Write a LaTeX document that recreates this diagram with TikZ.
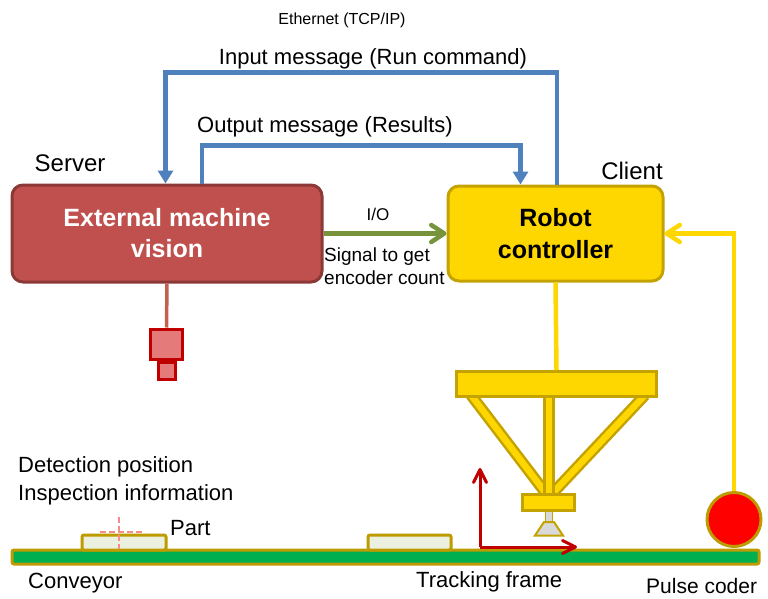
\documentclass[tikz,border=0pt]{standalone}
\usepackage{fontspec}
\setmainfont{Liberation Sans}
\usetikzlibrary{arrows.meta}

\definecolor{netblue}{RGB}{79,129,189}
\definecolor{visfill}{RGB}{192,80,77}
\definecolor{visline}{RGB}{140,56,54}
\definecolor{gold}{RGB}{255,215,0}
\definecolor{golddark}{RGB}{196,162,0}
\definecolor{iogreen}{RGB}{119,147,60}
\definecolor{camfill}{RGB}{228,122,122}
\definecolor{camline}{RGB}{192,0,0}
\definecolor{cable}{RGB}{196,96,80}
\definecolor{beltgreen}{RGB}{0,176,80}
\definecolor{beltedge}{RGB}{190,155,0}
\definecolor{partfill}{RGB}{235,241,222}
\definecolor{crosspink}{RGB}{245,140,140}
\definecolor{framered}{RGB}{192,0,0}
\definecolor{cupgray}{RGB}{217,217,217}

\tikzset{
  txt/.style={inner sep=0pt, font=\fontsize{#1}{#1}\selectfont},
  visionbox/.style={draw=visline, fill=visfill, line width=3pt, rounded corners=11pt,
    minimum width=310pt, minimum height=97pt, text=white, align=center,
    font=\fontsize{25}{31}\selectfont\bfseries},
  ctrlbox/.style={draw=golddark, fill=gold, line width=3pt, rounded corners=11pt,
    minimum width=215pt, minimum height=95pt, text=black, align=center,
    font=\fontsize{25}{32}\selectfont\bfseries},
  netarrow/.style={draw=netblue, line width=4.5pt, -{Triangle[width=15pt,length=13pt]}},
  ioarrow/.style={draw=iogreen, line width=4.5pt,
    -{Straight Barb[width=17pt,length=13pt,round]}},
  feedarrow/.style={draw=gold, line width=4.5pt,
    -{Straight Barb[width=17pt,length=13pt,round]}},
  framearrow/.style={draw=framered, line width=3pt,
    -{Straight Barb[width=13pt,length=13pt,round]}},
  goldpart/.style={draw=golddark, fill=gold, line width=3pt},
  leg/.style={draw=golddark, line width=2.5pt, double=gold, double distance=6.5pt},
}

\begin{document}
\begin{tikzpicture}[x=1pt, y=-1pt]
\useasboundingbox (0,0) rectangle (768,599);

% ---------- main blocks ----------
\node[visionbox] (vision) at (167,233.5) {External machine\\vision};
\node[ctrlbox] (ctrl) at (555.5,233.5) {Robot\\controller};

\node[txt=24, anchor=center] (server) at (70,163) {Server};
\node[txt=24, anchor=center] (client) at (632,171) {Client};

% ---------- Ethernet messages ----------
\node[txt=16] (eth) at (342,20) {Ethernet (TCP/IP)};
\node[txt=22] (inmsg) at (373,59) {Input message (Run command)};
\node[txt=22] (outmsg) at (325,127) {Output message (Results)};

\draw[netarrow] ([xshift=1.5pt]ctrl.north) -- ++(0,-112) -| ([xshift=-1.5pt]vision.north);
\draw[netarrow] ([xshift=35pt]vision.north) -- ++(0,-38) -| ([xshift=-35pt]ctrl.north);

% ---------- I/O signal ----------
\draw[ioarrow] (vision.east) -- (ctrl.west);
\node[txt=17] (io) at (378,214) {I/O};
\node[inner sep=0pt, anchor=west, align=left, font=\fontsize{19}{23}\selectfont]
  (sig) at (324,266.5) {Signal to get\\encoder count};

% ---------- camera ----------
\node[draw=camline, fill=camfill, line width=3pt, minimum width=32pt, minimum height=30pt,
  inner sep=0pt] (cam) at (166.5,344) {};
\node[draw=camline, fill=camfill, line width=3pt, minimum width=17pt, minimum height=17pt,
  inner sep=0pt, anchor=north] (lens) at (cam.south) {};
\draw[cable, line width=3.5pt] (vision.south) -- (cam.north);

% ---------- conveyor and parts ----------
\draw[draw=beltedge, fill=beltgreen, line width=3pt, rounded corners=2pt]
  (12,550) rectangle (759,564);
\draw[draw=beltedge, fill=partfill, line width=3pt, rounded corners=2pt]
  (82,535) rectangle (166,550);
\draw[draw=beltedge, fill=partfill, line width=3pt, rounded corners=2pt]
  (368,535) rectangle (451,550);
\draw[crosspink, line width=2.5pt, dash pattern=on 6pt off 3pt] (119,517) -- (119,549);
\draw[crosspink, line width=2.5pt, dash pattern=on 6pt off 3pt] (100,532) -- (142,532);

\node[inner sep=0pt, anchor=west, align=left, font=\fontsize{22}{28}\selectfont]
  (detect) at (18,481) {Detection position\\Inspection information};
\node[txt=22, anchor=west] (part) at (170,528) {Part};
\node[txt=22, anchor=west] (conv) at (28,583) {Conveyor};

% ---------- delta robot ----------
\draw[draw=golddark, fill=cupgray, line width=1.5pt] (545.5,509) rectangle (552.5,523);
\draw[draw=golddark, fill=cupgray, line width=2pt]
  (544,522) -- (554,522) -- (563,535.5) -- (535,535.5) -- cycle;
\draw[leg] (471,395) -- (548,496);
\draw[leg] (645,395) -- (550,496);
\draw[leg] (549,395) -- (549,496);
\node[goldpart, minimum width=200pt, minimum height=25pt, inner sep=0pt]
  (bar) at (556.5,384) {};
\node[goldpart, minimum width=52pt, minimum height=16pt, inner sep=0pt]
  (plate) at (548.5,502.5) {};
\draw[draw=gold, line width=4.5pt] (ctrl.south) -- (bar.north);

% ---------- tracking frame ----------
\coordinate (origin) at (480,547);
\draw[framearrow] (origin) -- ++(0,-79);
\draw[framearrow] (origin) -- ++(97,0);
\node[txt=22, anchor=west] (track) at (416,582) {Tracking frame};

% ---------- pulse coder ----------
\node[circle, draw=beltedge, fill=red, line width=3pt, minimum size=54pt, inner sep=0pt]
  (coder) at (734,519.5) {};
\draw[feedarrow] (coder.north) |- (ctrl.east);
\node[txt=21, anchor=west] (pulse) at (646,586) {Pulse coder};

\end{tikzpicture}
\end{document}
